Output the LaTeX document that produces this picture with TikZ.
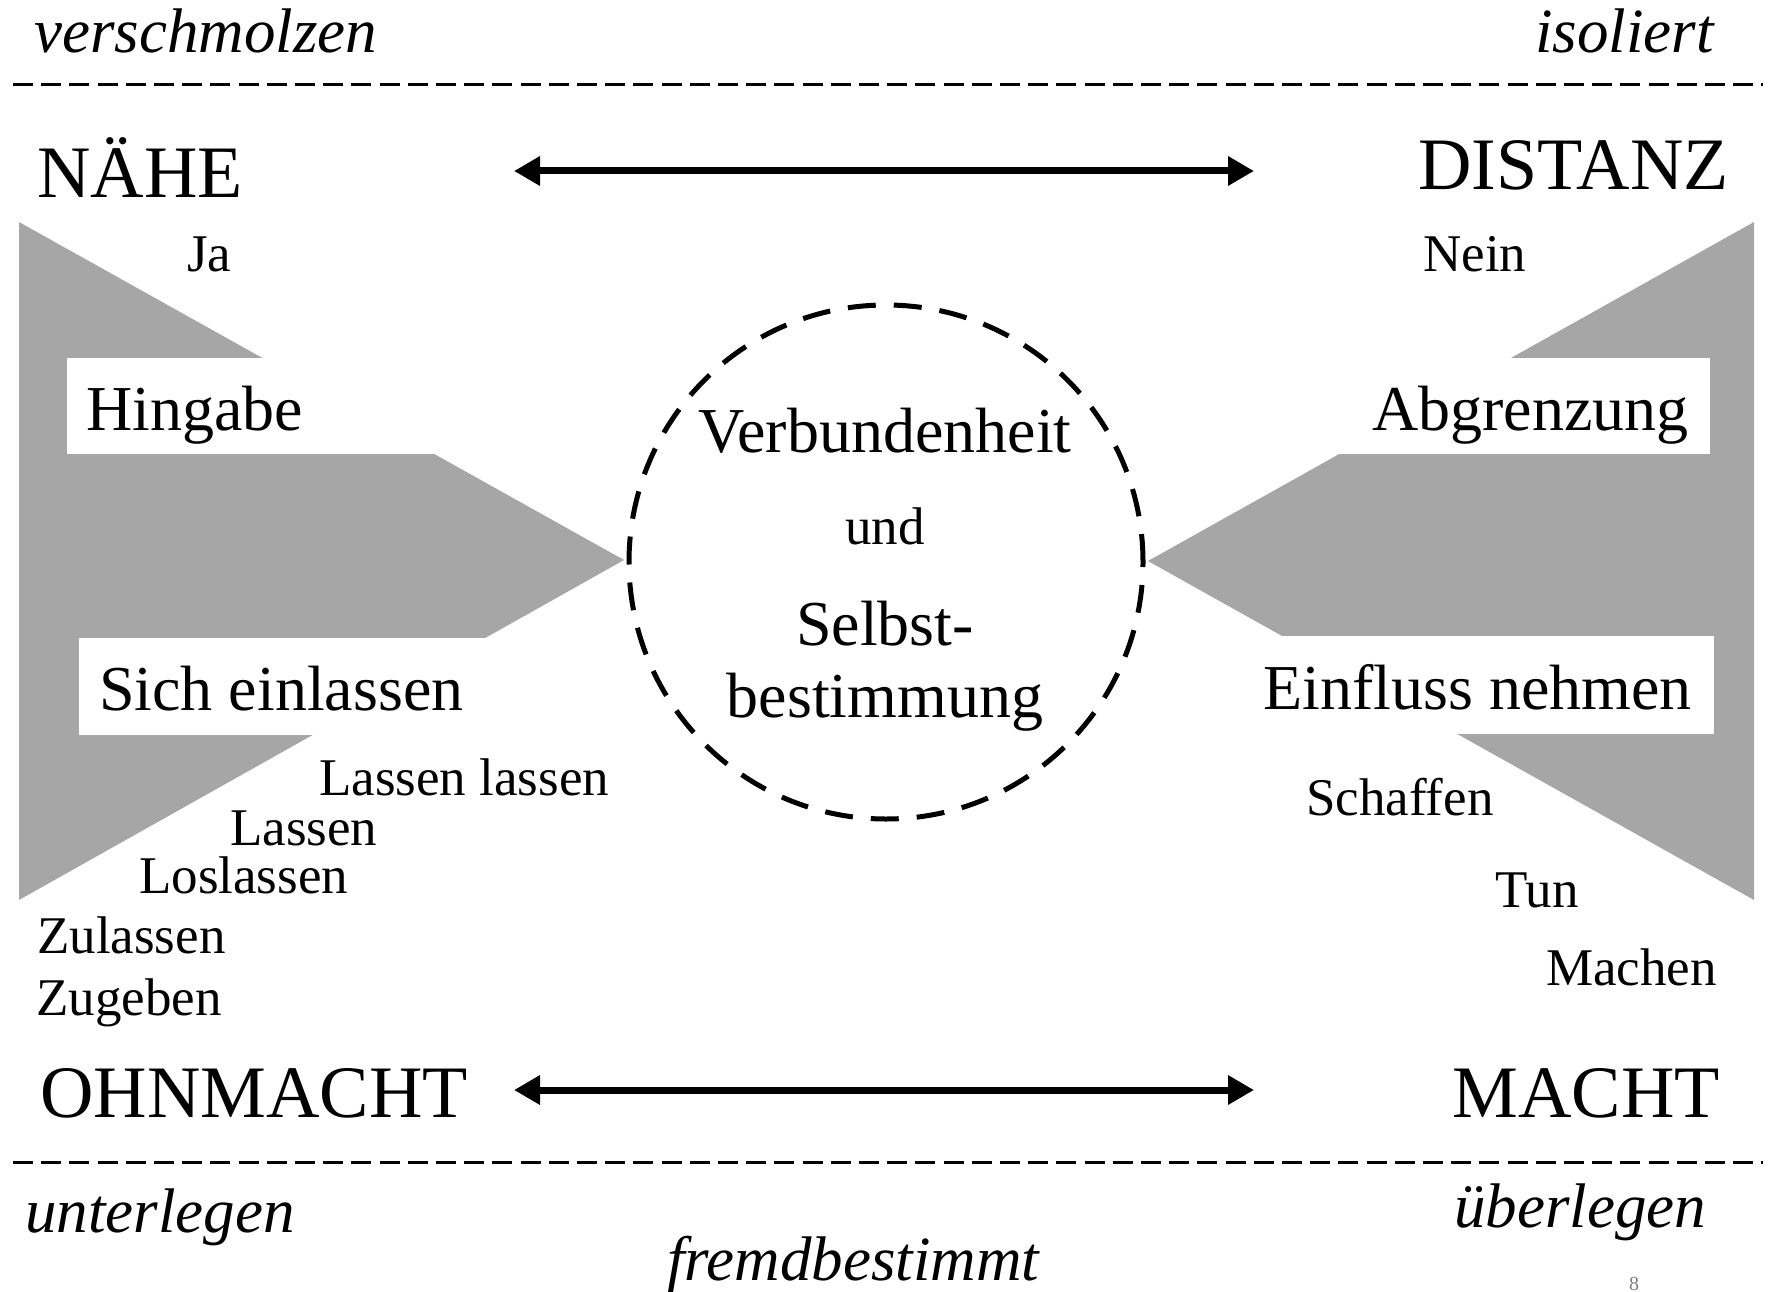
\documentclass[tikz,border=0pt]{standalone}
\usepackage{fontspec}
\setmainfont{Liberation Serif}
\usetikzlibrary{arrows.meta}
\definecolor{wedgegray}{RGB}{166,166,166}
\tikzset{
	big/.style={inner sep=0pt, font=\fontsize{74}{80}\selectfont},
	mid/.style={inner sep=0pt, font=\fontsize{64}{70}\selectfont},
	small/.style={inner sep=0pt, font=\fontsize{53}{58}\selectfont},
	pole/.style={inner sep=0pt, font=\fontsize{63}{70}\selectfont\itshape},
	border/.style={line width=3pt, dash pattern=on 20pt off 8.2pt},
	pull/.style={line width=7pt, {Triangle[length=26pt,width=28pt]}-{Triangle[length=26pt,width=28pt]}},
}
\begin{document}
\begin{tikzpicture}[x=1pt,y=-1pt]
		\useasboundingbox (0,0) rectangle (1772,1292);

		% grey wedges with white label strips
		\fill[wedgegray] (19,222) -- (19,900) -- (624,560) -- cycle;
		\fill[wedgegray] (1754,222) -- (1754,900) -- (1148,561) -- cycle;
		\fill[white] (67,358) rectangle (440,454);
		\fill[white] (79,638) rectangle (500,735);
		\fill[white] (1330,358) rectangle (1710,454);
		\fill[white] (1260,636) rectangle (1714,734);

		% dashed borders
		\draw[border] (13,85) -- (1763,85);
		\draw[border] (13,1162) -- (1763,1162);

		\node[pole, anchor=base west] (verschmolzen) at (34,53) {verschmolzen};
		\node[pole, anchor=base east] (isoliert) at (1714,53) {isoliert};
		\node[pole, anchor=base west] (unterlegen) at (25,1232) {unterlegen};
		\node[pole, anchor=base west] (ueberlegen) at (1454,1227) {überlegen};
		\node[pole, anchor=base west] (fremd) at (667,1280) {fremdbestimmt};

		\node[big, anchor=base west] (naehe) at (37,198) {NÄHE};
		\node[big, anchor=base east] (distanz) at (1729,190) {DISTANZ};
		\node[big, anchor=base west] (ohnmacht) at (40,1117) {OHNMACHT};
		\node[big, anchor=base east] (macht) at (1720,1117) {MACHT};

		\coordinate (top-l) at (514,171);
		\coordinate (top-r) at (1254,171);
		\coordinate (bot-l) at (514,1090);
		\coordinate (bot-r) at (1254,1090);
		\draw[pull] (top-l) -- (top-r);
		\draw[pull] (bot-l) -- (bot-r);

		\node[mid, anchor=base west] (hingabe) at (86,430) {Hingabe};
		\node[mid, anchor=base west] (einlassen) at (99,710) {Sich einlassen};
		\node[mid, anchor=base east] (abgrenzung) at (1689,430) {Abgrenzung};
		\node[mid, anchor=base east] (einfluss) at (1692,709) {Einfluss nehmen};

		\node[small, anchor=base west] (ja) at (187,271) {Ja};
		\node[small, anchor=base west] (nein) at (1423,271) {Nein};
		\node[small, anchor=base west] (lassenl) at (319,795) {Lassen lassen};
		\node[small, anchor=base west] (lassen) at (230,845) {Lassen};
		\node[small, anchor=base west] (loslassen) at (139,893) {Loslassen};
		\node[small, anchor=base west] (zulassen) at (37,953) {Zulassen};
		\node[small, anchor=base west] (zugeben) at (36,1015) {Zugeben};
		\node[small, anchor=base west] (schaffen) at (1306,815) {Schaffen};
		\node[small, anchor=base west] (tun) at (1495,907) {Tun};
		\node[small, anchor=base west] (machen) at (1546,985) {Machen};

		% centre
		\node[circle, draw, line width=5pt, dash pattern=on 28pt off 18pt,
			inner sep=0pt, minimum size=514pt] (core) at (886,562) {};
		\node[mid, anchor=base] (verbund) at (885,452) {Verbundenheit};
		\node[small, anchor=base] (und) at (885,544) {und};
		\node[mid, anchor=base] (selbst) at (885,645) {Selbst-};
		\node[mid, anchor=base] (bestimmung) at (885,717) {bestimmung};

		\node[inner sep=0pt, anchor=base, text=gray, font=\fontsize{20}{22}\selectfont] (page) at (1634,1290) {8};
	\end{tikzpicture}
\end{document}
